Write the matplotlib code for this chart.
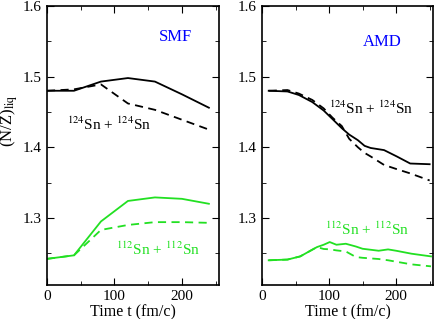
import matplotlib
matplotlib.use('Agg')
import matplotlib.pyplot as plt
from matplotlib.ticker import MultipleLocator

plt.rcParams['font.family'] = ['Liberation Serif', 'DejaVu Serif']
plt.rcParams['mathtext.fontset'] = 'stix'

# SMF panel
smf_t = [0, 40, 80, 120, 160, 200, 240]
smf_124_solid = [1.480, 1.480, 1.493, 1.498, 1.493, 1.475, 1.456]
smf_124_dash = [1.480, 1.482, 1.489, 1.462, 1.453, 1.439, 1.425]
smf_112_solid = [1.242, 1.247, 1.295, 1.324, 1.329, 1.327, 1.320]
smf_112_dash = [1.242, 1.247, 1.283, 1.290, 1.294, 1.294, 1.293]

# AMD panel
amd_t_124 = [10, 38, 55, 75, 92, 105, 119, 130, 143, 153, 162, 182, 201, 221, 250]
amd_124_solid = [1.480, 1.479, 1.474, 1.464, 1.452, 1.440, 1.427, 1.418, 1.410, 1.402, 1.399,
                 1.396, 1.387, 1.377, 1.376]
amd_124_dash = [1.480, 1.481, 1.476, 1.467, 1.455, 1.442, 1.430, 1.412, 1.400, 1.392, 1.387,
                1.375, 1.369, 1.363, 1.353]

amd_t_112 = [10, 38, 57, 82, 92, 101, 111, 125, 140, 150, 174, 188, 200, 223, 252]
amd_112_solid = [1.240, 1.241, 1.2455, 1.2587, 1.262, 1.2658, 1.262, 1.2634, 1.2595, 1.2563, 1.2535,
                 1.2554, 1.2535, 1.2493, 1.2455]
amd_112_dash = [1.240, 1.241, 1.2455, 1.2587, 1.256, 1.2555, 1.254, 1.2525, 1.2446, 1.2435, 1.2418,
                1.240, 1.238, 1.2342, 1.2314]

green = '#22e022'
dash = (0, (4.5, 3))

fig = plt.figure(figsize=(4.36, 3.19), dpi=100)
W, H = 436, 319
ax1 = fig.add_axes([47 / W, 34 / H, 172 / W, 279 / H])
ax2 = fig.add_axes([262 / W, 34 / H, 171 / W, 279 / H])

ax1.plot(smf_t, smf_124_solid, color='black', lw=1.3)
ax1.plot(smf_t, smf_124_dash, color='black', lw=1.3, ls=dash)
ax1.plot(smf_t, smf_112_solid, color=green, lw=1.3)
ax1.plot(smf_t, smf_112_dash, color=green, lw=1.3, ls=dash)
ax1.text(191, 1.556, 'SMF', color='blue', fontsize=12, ha='center', va='center')
ax1.text(92, 1.433, r'$^{124}$Sn + $^{124}$Sn', color='black', fontsize=11, ha='center', va='center')
ax1.text(164, 1.256, r'$^{112}$Sn + $^{112}$Sn', color=green, fontsize=11, ha='center', va='center')
ax1.set_ylabel(r'(N/Z)$_{\rm liq}$', fontsize=12)
ax1.yaxis.set_label_coords(-0.155, 0.59)

ax2.plot(amd_t_124, amd_124_solid, color='black', lw=1.3)
ax2.plot(amd_t_124, amd_124_dash, color='black', lw=1.3, ls=dash)
ax2.plot(amd_t_112, amd_112_solid, color=green, lw=1.3)
ax2.plot(amd_t_112, amd_112_dash, color=green, lw=1.3, ls=dash)
ax2.text(179, 1.549, 'AMD', color='blue', fontsize=12, ha='center', va='center')
ax2.text(162, 1.455, r'$^{124}$Sn + $^{124}$Sn', color='black', fontsize=11, ha='center', va='center')
ax2.text(157, 1.284, r'$^{112}$Sn + $^{112}$Sn', color=green, fontsize=11, ha='center', va='center')

for ax in (ax1, ax2):
    ax.set_xlim(0, 255)
    ax.set_ylim(1.205, 1.6)
    ax.xaxis.set_major_locator(MultipleLocator(100))
    ax.xaxis.set_minor_locator(MultipleLocator(50))
    ax.yaxis.set_major_locator(MultipleLocator(0.1))
    ax.yaxis.set_minor_locator(MultipleLocator(0.05))
    ax.tick_params(which='both', direction='in', top=True, right=True, labelsize=11)
    ax.tick_params(which='major', length=5)
    ax.tick_params(which='minor', length=3)
    ax.set_xlabel('Time t (fm/c)', fontsize=11.5, labelpad=1)
    for s in ax.spines.values():
        s.set_linewidth(1.2)

fig.savefig('out.png', dpi=100)
